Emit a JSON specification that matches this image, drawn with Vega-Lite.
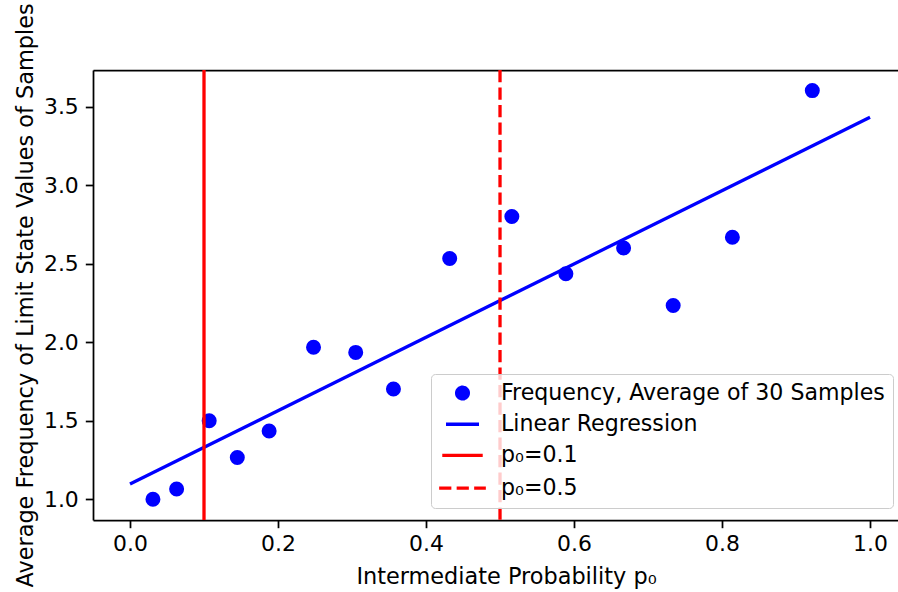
{
  "$schema": "https://vega.github.io/schema/vega-lite/v6.json",
  "width": 805,
  "height": 450,
  "autosize": {"type": "none"},
  "padding": {"left": 93, "top": 70, "right": 0, "bottom": 72},
  "background": "white",
  "config": {
    "view": {"stroke": null},
    "font": "DejaVu Sans",
    "axis": {
      "grid": false,
      "domainColor": "black",
      "domainWidth": 1.75,
      "tickColor": "black",
      "tickWidth": 1.75,
      "tickSize": 7.7,
      "labelFont": "DejaVu Sans",
      "labelFontSize": 21.9,
      "labelColor": "black",
      "titleFont": "DejaVu Sans",
      "titleFontSize": 22.4,
      "titleFontWeight": "normal",
      "titleColor": "black"
    },
    "legend": {
      "orient": "none",
      "legendX": 338,
      "legendY": 304,
      "zindex": 1,
      "labelFont": "DejaVu Sans",
      "labelFontSize": 22.1,
      "labelColor": "black",
      "labelLimit": 0,
      "symbolStrokeWidth": 3.3,
      "symbolOpacity": 1,
      "symbolOffset": 10,
      "labelOffset": 25,
      "rowPadding": 7.2,
      "padding": 8,
      "fillColor": "rgba(255,255,255,0.8)",
      "strokeColor": "#cccccc",
      "cornerRadius": 4
    }
  },
  "datasets": {
    "pts": [
      {"x": 0.031, "y": 1.0, "series": "Frequency, Average of 30 Samples"},
      {"x": 0.063, "y": 1.065, "series": "Frequency, Average of 30 Samples"},
      {"x": 0.107, "y": 1.5, "series": "Frequency, Average of 30 Samples"},
      {"x": 0.145, "y": 1.266, "series": "Frequency, Average of 30 Samples"},
      {"x": 0.188, "y": 1.435, "series": "Frequency, Average of 30 Samples"},
      {"x": 0.248, "y": 1.968, "series": "Frequency, Average of 30 Samples"},
      {"x": 0.305, "y": 1.935, "series": "Frequency, Average of 30 Samples"},
      {"x": 0.356, "y": 1.702, "series": "Frequency, Average of 30 Samples"},
      {"x": 0.432, "y": 2.533, "series": "Frequency, Average of 30 Samples"},
      {"x": 0.516, "y": 2.8, "series": "Frequency, Average of 30 Samples"},
      {"x": 0.589, "y": 2.436, "series": "Frequency, Average of 30 Samples"},
      {"x": 0.667, "y": 2.6, "series": "Frequency, Average of 30 Samples"},
      {"x": 0.734, "y": 2.234, "series": "Frequency, Average of 30 Samples"},
      {"x": 0.814, "y": 2.668, "series": "Frequency, Average of 30 Samples"},
      {"x": 0.922, "y": 3.602, "series": "Frequency, Average of 30 Samples"}
    ],
    "reg": [
      {"x": 0.0, "y": 1.097, "series": "Linear Regression"},
      {"x": 1.0, "y": 3.432, "series": "Linear Regression"}
    ],
    "vlines": [
      {"x": 0.1, "series": "p₀=0.1"},
      {"x": 0.5, "series": "p₀=0.5"}
    ]
  },
  "resolve": {"axis": {"x": "independent"}},
  "layer": [
    {
      "data": {"name": "pts"},
      "mark": {"type": "point", "filled": true, "opacity": 1, "stroke": "#0000ff", "strokeWidth": 3.3},
      "encoding": {
        "x": {
          "field": "x", "type": "quantitative",
          "scale": {"domain": [-0.05, 1.0378], "nice": false, "zero": false},
          "axis": {
            "values": [0, 0.2, 0.4, 0.6, 0.8, 1.0], "format": ".1f",
            "labelPadding": 6,
            "title": "Intermediate Probability p₀",
            "titleX": 413, "titleY": 63, "titleAlign": "center", "titleBaseline": "alphabetic", "titleAnchor": null
          }
        },
        "y": {
          "field": "y", "type": "quantitative",
          "scale": {"domain": [0.868, 3.733], "nice": false, "zero": false},
          "axis": {
            "values": [1.0, 1.5, 2.0, 2.5, 3.0, 3.5], "format": ".1f",
            "labelPadding": 7,
            "title": "Average Frequency of Limit State Values of Samples",
            "titleX": -61, "titleY": 225, "titleAngle": -90, "titleAlign": "center", "titleBaseline": "alphabetic", "titleAnchor": null
          }
        },
        "color": {
          "field": "series", "type": "nominal",
          "scale": {
            "domain": ["Frequency, Average of 30 Samples", "Linear Regression", "p₀=0.1", "p₀=0.5"],
            "range": ["#0000ff", "#0000ff", "#ff0000", "#ff0000"]
          },
          "legend": {"title": null}
        },
        "shape": {
          "field": "series", "type": "nominal",
          "scale": {
            "domain": ["Frequency, Average of 30 Samples", "Linear Regression", "p₀=0.1", "p₀=0.5"],
            "range": ["circle", "M-2,0L2,0", "M-2,0L2,0", "M-2,0L2,0"]
          },
          "legend": {"title": null}
        },
        "size": {
          "field": "series", "type": "nominal",
          "scale": {
            "domain": ["Frequency, Average of 30 Samples", "Linear Regression", "p₀=0.1", "p₀=0.5"],
            "range": [137, 545, 545, 545]
          },
          "legend": {"title": null}
        }
      }
    },
    {
      "data": {"name": "reg"},
      "mark": {"type": "line", "strokeWidth": 3.3},
      "encoding": {
        "x": {"field": "x", "type": "quantitative", "axis": null},
        "y": {"field": "y", "type": "quantitative"},
        "color": {"field": "series", "type": "nominal", "legend": {"title": null}}
      }
    },
    {
      "data": {"name": "vlines"},
      "mark": {"type": "rule", "strokeWidth": 3.3},
      "encoding": {
        "x": {
          "field": "x", "type": "quantitative",
          "axis": {"orient": "top", "labels": false, "ticks": false, "title": null, "domain": true}
        },
        "color": {"field": "series", "type": "nominal", "legend": {"title": null}},
        "strokeDash": {
          "field": "series", "type": "nominal",
          "scale": {
            "domain": ["Frequency, Average of 30 Samples", "Linear Regression", "p₀=0.1", "p₀=0.5"],
            "range": [[1, 0], [1, 0], [1, 0], [12.2, 5.3]]
          },
          "legend": {"title": null}
        }
      }
    }
  ]
}
